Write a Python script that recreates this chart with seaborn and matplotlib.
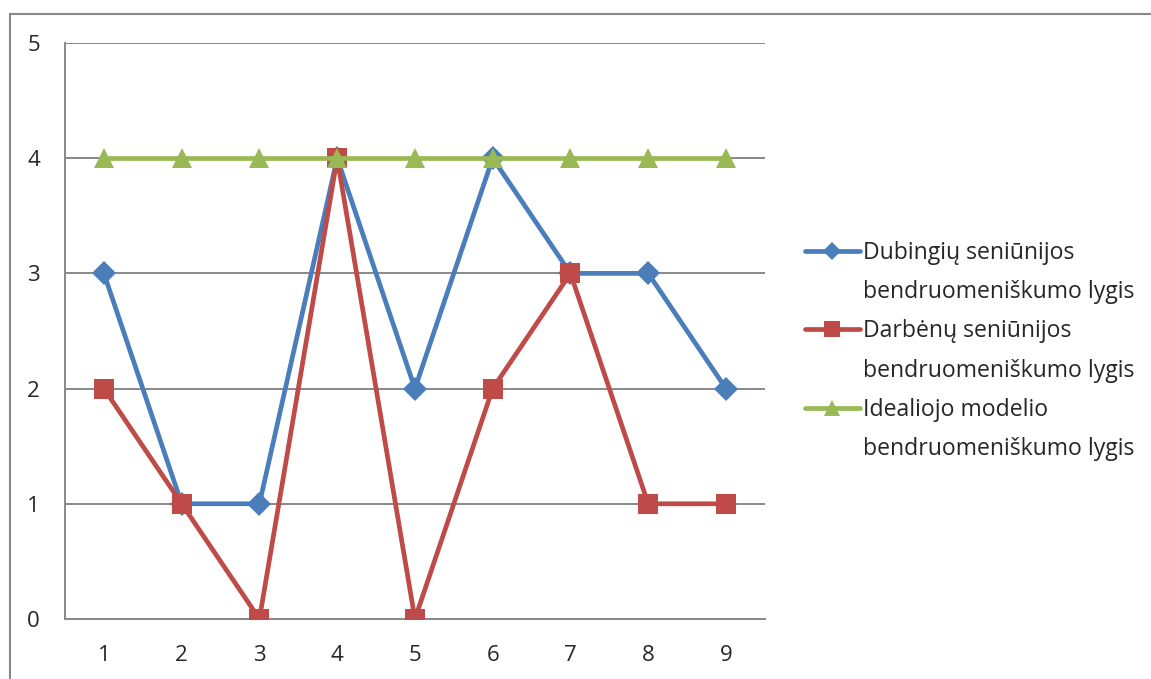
import numpy as np
import pandas as pd
import matplotlib
matplotlib.use("Agg")
import matplotlib.pyplot as plt
import seaborn as sns
from matplotlib.lines import Line2D
from matplotlib.patches import Rectangle

# duomenys nuskaityti nuo paveikslo
kategorijos = [1, 2, 3, 4, 5, 6, 7, 8, 9]
dubingiai = [3, 1, 1, 4, 2, 4, 3, 3, 2]
darbenai = [2, 1, 0, 4, 0, 2, 3, 1, 1]
idealus = [4, 4, 4, 4, 4, 4, 4, 4, 4]

serijos = ["Dubingių seniūnijos", "Darbėnų seniūnijos", "Idealiojo modelio"]
antra_eilute = "bendruomeniškumo lygis"
spalvos = ["#4A7EBB", "#BE4B48", "#98B954"]
zymekliai = ["D", "s", "^"]
dydziai = [12.5, 14, 14]         # diagramoje
dydziai_leg = [9.5, 12, 12]      # legendoje mazesni

df = pd.DataFrame({
    "x": kategorijos * 3,
    "y": dubingiai + darbenai + idealus,
    "serija": [serijos[0]] * 9 + [serijos[1]] * 9 + [serijos[2]] * 9,
})

sns.set_style("white")
plt.rcParams["font.family"] = ["Open Sans", "DejaVu Sans"]

fig = plt.figure(figsize=(11.51, 6.79), dpi=100)
ax = fig.add_axes([0.0565, 0.0884, 0.608, 0.8483])

grey = "#888888"
sns.lineplot(data=df, x="x", y="y", hue="serija", style="serija",
             palette=dict(zip(serijos, spalvos)),
             markers=dict(zip(serijos, zymekliai)),
             dashes=False, linewidth=3.4, markersize=14,
             markeredgewidth=0, ax=ax, zorder=3, legend=False)
for ln, d in zip(ax.lines, dydziai):
    ln.set_markersize(d)

ax.set_xlim(0.5, 9.5)
ax.set_ylim(0, 5)
ax.set_yticks(range(6))
ax.set_xticks(kategorijos)
ax.set_xticks(np.arange(0.5, 9.6, 1), minor=True)
ax.yaxis.grid(True, color=grey, linewidth=1.4, zorder=0)
ax.set_axisbelow(True)
ax.tick_params(axis="x", which="major", length=0, labelsize=16, pad=19)
ax.tick_params(axis="x", which="minor", length=5, width=1.4, color=grey)
ax.tick_params(axis="y", length=5, width=1.4, color=grey, labelsize=16, pad=13)
ax.set_xlabel("")
ax.set_ylabel("")
for s in ["top", "right"]:
    ax.spines[s].set_visible(False)
for s in ["left", "bottom"]:
    ax.spines[s].set_color(grey)
    ax.spines[s].set_linewidth(1.4)

# legenda: zymeklis prie pirmos eilutes, antra eilute be zymeklio
rankenos, tekstai = [], []
for pav, sp, zm, d in zip(serijos, spalvos, zymekliai, dydziai_leg):
    rankenos.append(Line2D([], [], color=sp, marker=zm, linewidth=3.4,
                           markersize=d, markeredgewidth=0))
    tekstai.append(pav)
    rankenos.append(Line2D([], [], alpha=0))
    tekstai.append(antra_eilute)

ax.legend(rankenos, tekstai, loc="center left", bbox_to_anchor=(0.699, 0.483),
          bbox_transform=fig.transFigure, frameon=False,
          fontsize=16.6, handlelength=2.4, handletextpad=0.12,
          labelspacing=0.66, borderaxespad=0, borderpad=0)

# remelis aplink diagrama
fig.patches.append(Rectangle((10 / 1151, -0.1), 1.2, 1 - 14 / 679 + 0.1,
                             transform=fig.transFigure, fill=False,
                             edgecolor=grey, linewidth=1.5))

fig.savefig("out.png", dpi=100)
